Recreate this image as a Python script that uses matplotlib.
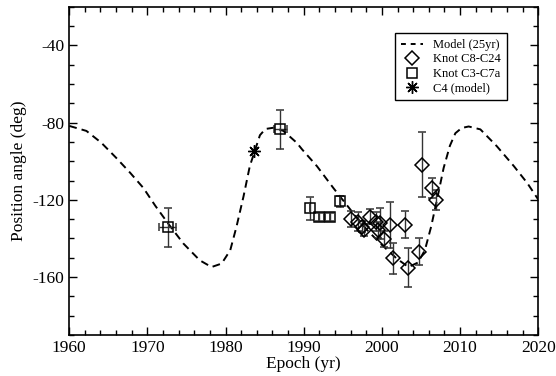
import matplotlib
matplotlib.use('Agg')
import matplotlib.pyplot as plt
from matplotlib.lines import Line2D
from matplotlib.ticker import MultipleLocator

# Model curve (25 yr precession)
model_yr = [1960.0, 1962.2, 1964.1, 1966.0, 1967.8, 1969.5, 1971.0, 1972.7,
            1974.6, 1976.7, 1978.2, 1979.5, 1980.6, 1981.4, 1982.3, 1983.1,
            1983.8, 1984.4, 1985.1, 1986.2, 1987.4, 1989.1, 1989.8, 1991.7,
            1993.8, 1996.0, 1998.1, 1999.8, 2001.9, 2003.4, 2004.6, 2005.5,
            2006.3, 2007.1, 2007.9, 2008.7, 2009.4, 2010.2, 2011.1, 2012.6,
            2014.7, 2016.9, 2018.6, 2020.0]
model_pa = [-81.7, -84.3, -90.4, -98.2, -106.0, -113.9, -123.0, -132.5,
            -142.6, -151.3, -154.8, -153.0, -146.1, -133.9, -118.2, -102.6,
            -93.9, -86.5, -83.3, -82.6, -84.3, -90.4, -93.9, -102.6,
            -113.9, -125.2, -135.6, -142.6, -150.4, -154.8, -152.5, -146.1,
            -133.9, -119.0, -103.5, -92.0, -85.5, -82.8, -82.0, -83.5,
            -92.2, -102.6, -111.3, -119.8]

# Knot C8-C24 (diamonds)
c8_yr = [1996.1, 1997.0, 1997.5, 1997.7, 1998.5, 1999.2, 1999.5, 1999.8,
         2000.3, 2001.1, 2001.4, 2003.0, 2003.4, 2004.8, 2005.1, 2006.4, 2006.9]
c8_pa = [-130.0, -131.3, -133.9, -135.6, -128.7, -131.3, -135.5, -132.1,
         -140.3, -133.0, -150.2, -133.0, -155.1, -146.9, -101.7, -113.9, -120.0]
c8_err = [4, 5, 3, 3, 4, 5, 4, 8, 4, 12, 8, 7, 10, 7, 17, 5, 5]

# Knot C3-C7a (squares)
c3_yr = [1972.6, 1987.0, 1990.8, 1992.0, 1993.3, 1994.7]
c3_pa = [-134.2, -83.5, -124.3, -129.0, -129.0, -120.8]
c3_err = [10, 10, 6, 2, 2, 3]
c3_xerr = [1.1, 0.8, 0.0, 0.0, 0.0, 0.0]

# C4 (model)
c4_yr = [1983.7]
c4_pa = [-94.8]

plt.rcParams.update({
    'font.family': 'Liberation Serif',
    'font.size': 12.5,
    'axes.unicode_minus': False,
    'xtick.direction': 'in',
    'ytick.direction': 'in',
    'xtick.top': True,
    'ytick.right': True,
})

fig = plt.figure(figsize=(5.56, 3.76), dpi=100)
ax = fig.add_axes([0.1245, 0.109, 0.8435, 0.873])

dash = (0, (4, 2.6))
ax.plot(model_yr, model_pa, color='k', ls=dash, lw=1.4)

ax.errorbar(c8_yr, c8_pa, yerr=c8_err, fmt='D', ms=7, mfc='none', mec='k',
            mew=1.1, ecolor='0.2', elinewidth=1.0, capsize=3, capthick=1.0)
ax.errorbar(c3_yr, c3_pa, yerr=c3_err, xerr=c3_xerr, fmt='s', ms=7,
            mfc='none', mec='k', mew=1.1, ecolor='0.2', elinewidth=1.0,
            capsize=3, capthick=1.0)
ax.plot(c4_yr, c4_pa, ls='none', marker=(8, 2, 0), ms=9, mec='k', mew=1.0)

ax.set_xlim(1960, 2020)
ax.set_ylim(-190, -20)
ax.xaxis.set_major_locator(MultipleLocator(10))
ax.xaxis.set_minor_locator(MultipleLocator(2))
ax.yaxis.set_major_locator(MultipleLocator(40))
ax.yaxis.set_minor_locator(MultipleLocator(10))
ax.tick_params(which='major', length=6, width=1.0)
ax.tick_params(which='minor', length=3.5, width=1.0)
for sp in ax.spines.values():
    sp.set_linewidth(1.2)

ax.set_xlabel('Epoch (yr)', labelpad=0)
ax.set_ylabel('Position angle (deg)', labelpad=4)

handles = [
    Line2D([0], [0], color='k', ls=(0, (2.5, 2.5)), lw=1.4, label='Model (25yr)'),
    Line2D([0], [0], ls='none', marker='D', ms=7.5, mfc='none', mec='k',
           mew=1.1, label='Knot C8-C24'),
    Line2D([0], [0], ls='none', marker='s', ms=7.5, mfc='none', mec='k',
           mew=1.1, label='Knot C3-C7a'),
    Line2D([0], [0], ls='none', marker=(8, 2, 0), ms=9, mec='k', mew=1.0,
           label='C4 (model)'),
]
leg = ax.legend(handles=handles, loc='upper right',
                bbox_to_anchor=(0.933, 0.919), fontsize=9,
                frameon=True, fancybox=False, framealpha=1, edgecolor='k',
                handlelength=1.8, handletextpad=0.8, labelspacing=0.2,
                borderpad=0.45, borderaxespad=0)
leg.get_frame().set_linewidth(1.0)

fig.savefig('out.png', dpi=100)
